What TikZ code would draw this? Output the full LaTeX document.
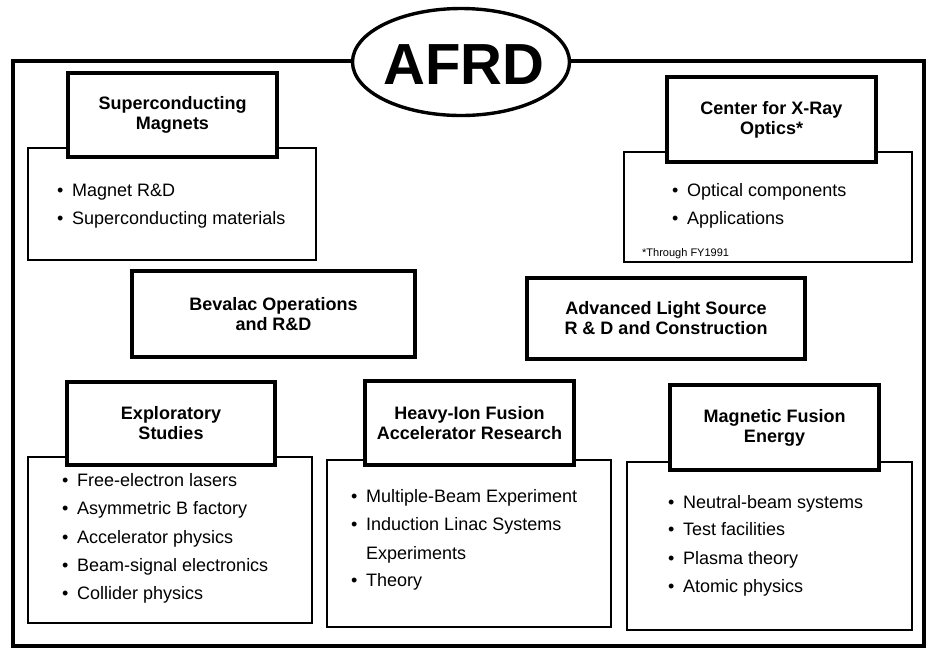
\documentclass[tikz,border=0pt]{standalone}
\usepackage{fontspec}
\setmainfont{Liberation Sans}
\usetikzlibrary{shapes.geometric}
\newcommand\bitem[3]{\node[itemtext] (#1) at (#2) {\makebox[15pt][l]{•}#3};}
\begin{document}
\begin{tikzpicture}[x=1pt,y=-1pt,
  framebox/.style={draw, line width=3.4pt},
  titlebox/.style={draw, line width=3.6pt, fill=white, inner sep=0pt, align=center,
    font=\bfseries\fontsize{18}{20}\selectfont},
  listbox/.style={draw, line width=1.7pt, fill=white, inner sep=0pt},
  itemtext/.style={anchor=base west, inner sep=0pt, font=\fontsize{18}{22}\selectfont},
  notetext/.style={anchor=base west, inner sep=0pt, font=\fontsize{11}{13}\selectfont},
  logo/.style={draw, ellipse, line width=3.4pt, fill=white, inner sep=0pt},
  logotext/.style={inner sep=0pt, font=\bfseries\fontsize{58}{60}\selectfont}]
\useasboundingbox (0,0) rectangle (928,649);
\fill[white] (0,0) rectangle (928,649);
% outer frame
\node[framebox, minimum width=911pt, minimum height=585pt, inner sep=0pt] (frame) at (468.5,353.5) {};
% AFRD ellipse
\node[logo, minimum width=217pt, minimum height=107pt] (afrd) at (461,62) {};
\node[logotext] (afrdtext) at (464,65) {AFRD};

% Superconducting Magnets
\node[listbox, minimum width=288pt, minimum height=112pt] (smlist) at (172,204) {};
\node[titlebox, minimum width=209pt, minimum height=84pt] (sm) at (172.5,115) {Superconducting\\Magnets};
\bitem{sm1}{57,196}{Magnet R\&D}
\bitem{sm2}{57,224}{Superconducting materials}

% Center for X-Ray Optics
\node[listbox, minimum width=288pt, minimum height=110pt] (cxlist) at (768,207) {};
\node[titlebox, minimum width=209pt, minimum height=85pt] (cx) at (771.5,119.5) {Center for X-Ray\\Optics*};
\bitem{cx1}{672,196}{Optical components}
\bitem{cx2}{672,224}{Applications}
\node[notetext] (cxnote) at (642,256) {*Through FY1991};

% Bevalac
\node[titlebox, minimum width=283pt, minimum height=86pt] (bev) at (273.5,314) {Bevalac Operations\\and R\&D};

% Advanced Light Source
\node[titlebox, minimum width=278pt, minimum height=81pt] (als) at (666,318.5) {Advanced Light Source\\R \& D and Construction};

% Exploratory Studies
\node[listbox, minimum width=284pt, minimum height=166pt] (exlist) at (170,540) {};
\node[titlebox, minimum width=208pt, minimum height=83pt] (ex) at (171,423.5) {Exploratory\\Studies};
\bitem{ex1}{62,486}{Free-electron lasers}
\bitem{ex2}{62,514}{Asymmetric B factory}
\bitem{ex3}{62,543}{Accelerator physics}
\bitem{ex4}{62,571}{Beam-signal electronics}
\bitem{ex5}{62,599}{Collider physics}

% Heavy-Ion Fusion
\node[listbox, minimum width=284pt, minimum height=167pt] (hilist) at (469,543.5) {};
\node[titlebox, minimum width=209pt, minimum height=84pt] (hi) at (469.5,423) {Heavy-Ion Fusion\\Accelerator Research};
\bitem{hi1}{351,502}{Multiple-Beam Experiment}
\bitem{hi2}{351,530}{Induction Linac Systems}
\node[itemtext] (hi2b) at (366,559) {Experiments};
\bitem{hi3}{351,586}{Theory}

% Magnetic Fusion Energy
\node[listbox, minimum width=285pt, minimum height=168pt] (mflist) at (769.5,546) {};
\node[titlebox, minimum width=209pt, minimum height=85pt] (mf) at (774.5,427.5) {Magnetic Fusion\\Energy};
\bitem{mf1}{668,508}{Neutral-beam systems}
\bitem{mf2}{668,535}{Test facilities}
\bitem{mf3}{668,564}{Plasma theory}
\bitem{mf4}{668,592}{Atomic physics}
\end{tikzpicture}
\end{document}
